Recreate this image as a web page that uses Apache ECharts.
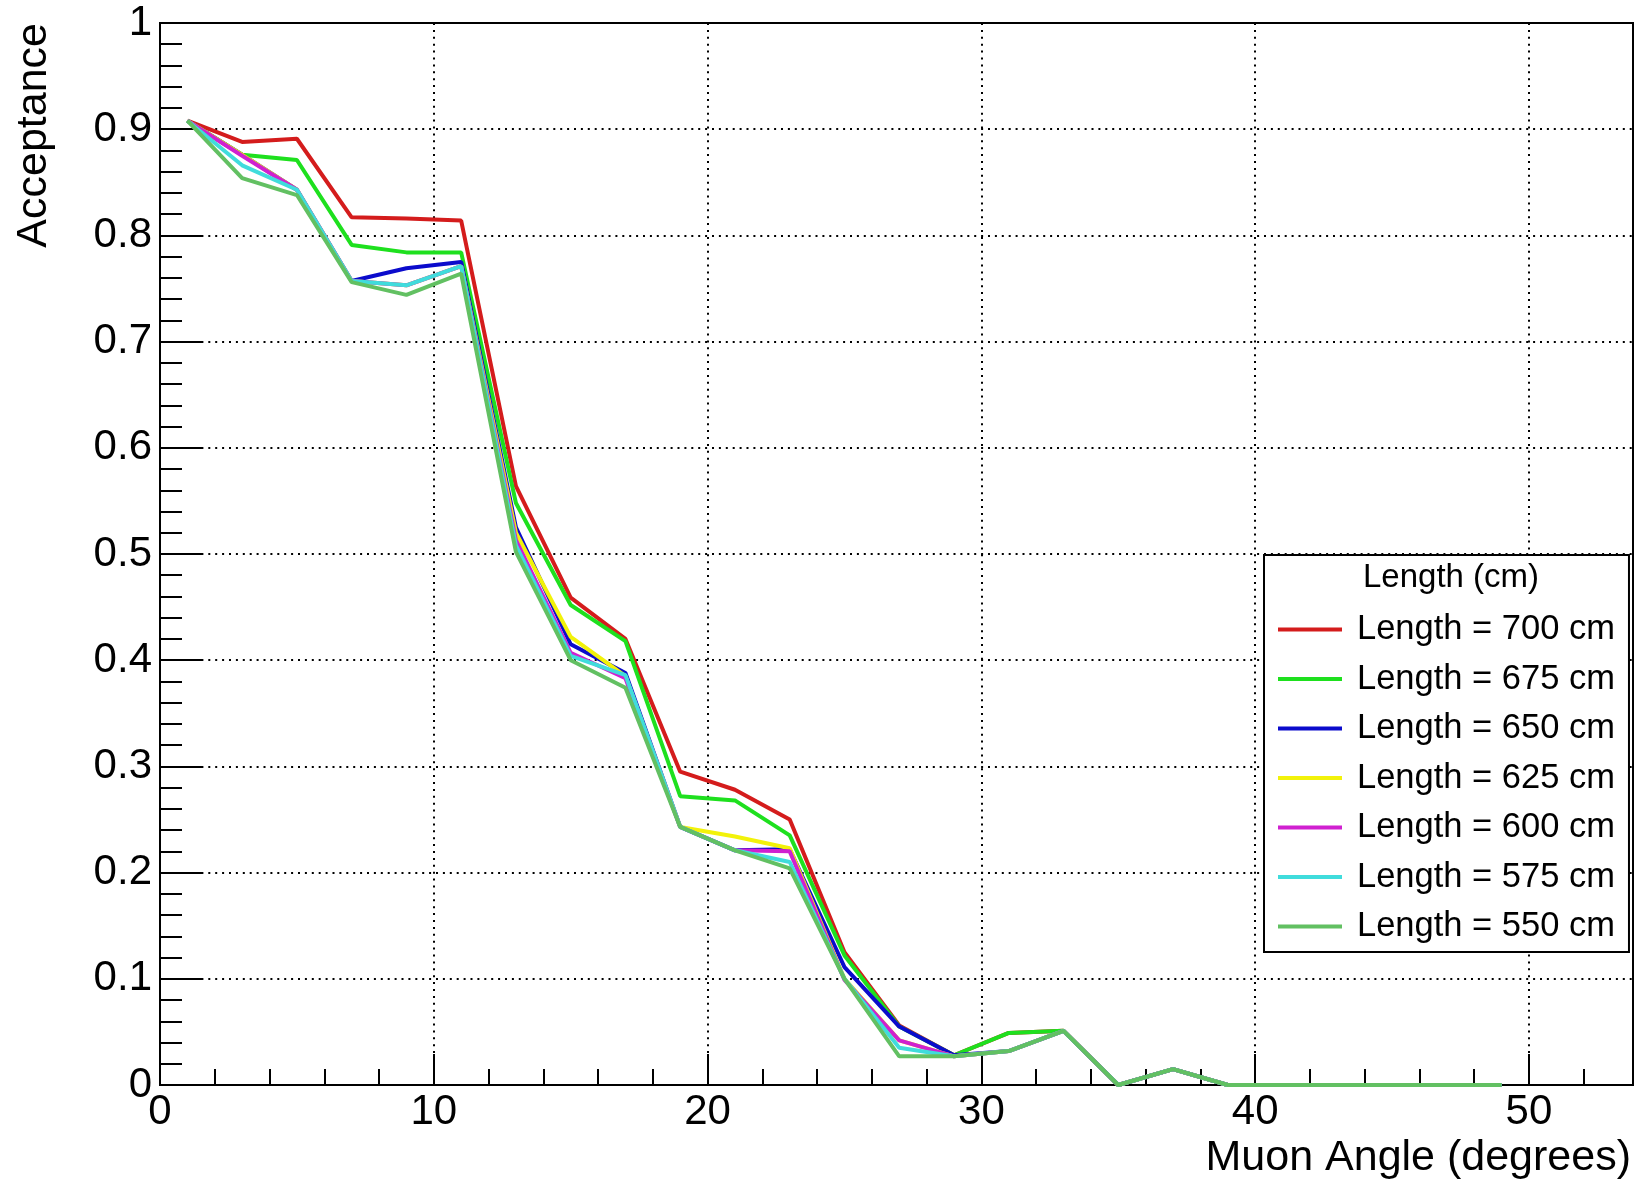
<!DOCTYPE html>
<html>
<head>
<meta charset="utf-8">
<script src="https://cdn.jsdelivr.net/npm/echarts@6/dist/echarts.min.js"></script>
<style>
html,body{margin:0;padding:0;background:#fff;}
#chart{width:1641px;height:1180px;}
</style>
</head>
<body>
<div id="chart"></div>
<script>
// Muon angle bin centres (degrees)
var angles = [1, 3, 5, 7, 9, 11, 13, 15, 17, 19, 21, 23, 25, 27, 29, 31, 33, 35, 37, 39, 41, 43, 45, 47, 49];

// Acceptance per detector length
var len700 = [0.908, 0.888, 0.891, 0.817, 0.816, 0.814, 0.564, 0.459, 0.420, 0.295, 0.278, 0.250, 0.125, 0.056, 0.028, 0.049, 0.051, 0, 0.015, 0, 0, 0, 0, 0, 0];
var len675 = [0.908, 0.876, 0.871, 0.791, 0.784, 0.784, 0.548, 0.452, 0.418, 0.272, 0.268, 0.235, 0.122, 0.055, 0.028, 0.049, 0.051, 0, 0.015, 0, 0, 0, 0, 0, 0];
var len650 = [0.908, 0.876, 0.843, 0.757, 0.769, 0.775, 0.525, 0.415, 0.388, 0.243, 0.221, 0.222, 0.111, 0.055, 0.028, 0.032, 0.051, 0, 0.015, 0, 0, 0, 0, 0, 0];
var len625 = [0.908, 0.876, 0.843, 0.757, 0.753, 0.771, 0.520, 0.422, 0.385, 0.243, 0.234, 0.223, 0.100, 0.042, 0.027, 0.032, 0.051, 0, 0.015, 0, 0, 0, 0, 0, 0];
var len600 = [0.908, 0.875, 0.843, 0.757, 0.753, 0.771, 0.513, 0.407, 0.383, 0.243, 0.221, 0.220, 0.099, 0.042, 0.027, 0.032, 0.051, 0, 0.015, 0, 0, 0, 0, 0, 0];
var len575 = [0.908, 0.866, 0.843, 0.757, 0.753, 0.771, 0.508, 0.404, 0.386, 0.243, 0.221, 0.210, 0.100, 0.035, 0.027, 0.032, 0.051, 0, 0.015, 0, 0, 0, 0, 0, 0];
var len550 = [0.908, 0.854, 0.838, 0.756, 0.744, 0.764, 0.502, 0.400, 0.374, 0.243, 0.221, 0.204, 0.100, 0.027, 0.027, 0.032, 0.051, 0, 0.015, 0, 0, 0, 0, 0, 0];

var seriesNames = ['Length = 700 cm', 'Length = 675 cm', 'Length = 650 cm', 'Length = 625 cm', 'Length = 600 cm', 'Length = 575 cm', 'Length = 550 cm'];
var seriesValues = [len700, len675, len650, len625, len600, len575, len550];
var seriesColors = ['#d41c1c', '#1ee01e', '#0b0bcc', '#f2f20a', '#d020d0', '#40dcdc', '#62c062'];

var legendTitle = 'Length (cm)';
var xTitle = 'Muon Angle (degrees)';
var yTitle = 'Acceptance';

var FONT = '"Liberation Sans", Arial, Helvetica, sans-serif';
var dotted = { color: '#000', width: 2, type: [2, 4.9] };

var chart = echarts.init(document.getElementById('chart'), null, { renderer: 'canvas' });

var series = seriesNames.map(function (name, i) {
  return {
    name: name,
    type: 'line',
    xAxisIndex: 0,
    yAxisIndex: 0,
    symbol: 'none',
    color: seriesColors[i],
    lineStyle: { width: 4, color: seriesColors[i] },
    z: 3 + i,
    data: angles.map(function (a, k) { return [a, seriesValues[i][k]]; })
  };
});

chart.setOption({
  animation: false,
  backgroundColor: '#fff',
  grid: {
    left: 160, right: 8, top: 23, bottom: 95,
    show: true, borderColor: '#000', borderWidth: 2, backgroundColor: 'transparent'
  },
  xAxis: [{
    type: 'value', min: 0, max: 53.8, interval: 10, position: 'bottom',
    axisLine: { show: true, onZero: false, lineStyle: { color: '#000', width: 2 } },
    axisTick: { show: true, inside: true, length: 31, lineStyle: { color: '#000', width: 2 } },
    axisLabel: { show: true, color: '#000', fontFamily: FONT, fontSize: 42, margin: 6, showMaxLabel: false },
    splitLine: { show: true, lineStyle: dotted }
  }, {
    type: 'value', min: 0, max: 53.8, interval: 2, position: 'bottom',
    axisLine: { show: false, onZero: false },
    axisTick: { show: true, inside: true, length: 16, lineStyle: { color: '#000', width: 2 } },
    axisLabel: { show: false },
    splitLine: { show: false }
  }],
  yAxis: [{
    type: 'value', min: 0, max: 1, interval: 0.1,
    axisLine: { show: true, onZero: false, lineStyle: { color: '#000', width: 2 } },
    axisTick: { show: true, inside: true, length: 43, lineStyle: { color: '#000', width: 2 } },
    minorTick: { show: true, splitNumber: 5, length: 22, lineStyle: { color: '#000', width: 2 } },
    axisLabel: { show: true, color: '#000', fontFamily: FONT, fontSize: 42, margin: 8 },
    splitLine: { show: true, lineStyle: dotted }
  }],
  legend: {
    show: true,
    orient: 'vertical',
    left: 1264, top: 555,
    padding: [57, 14, 8, 14],
    itemGap: 14.5,
    itemWidth: 64, itemHeight: 4,
    icon: 'rect',
    borderColor: '#000', borderWidth: 2,
    backgroundColor: '#fff',
    textStyle: { color: '#000', fontFamily: FONT, fontSize: 34.5, padding: [0, 0, 0, 10] },
    data: seriesNames
  },
  graphic: [
    {
      type: 'text', z: 100,
      x: 1451, y: 578,
      style: { text: legendTitle, fill: '#000', font: '33px ' + FONT, align: 'center', verticalAlign: 'middle' }
    },
    {
      type: 'text', z: 100,
      x: 1631, y: 1158,
      style: { text: xTitle, fill: '#000', font: '43px ' + FONT, align: 'right', verticalAlign: 'middle' }
    },
    {
      type: 'text', z: 100,
      x: 34, y: 23, rotation: Math.PI / 2,
      style: { text: yTitle, fill: '#000', font: '43px ' + FONT, align: 'right', verticalAlign: 'middle' }
    }
  ],
  series: series
});
</script>
</body>
</html>
